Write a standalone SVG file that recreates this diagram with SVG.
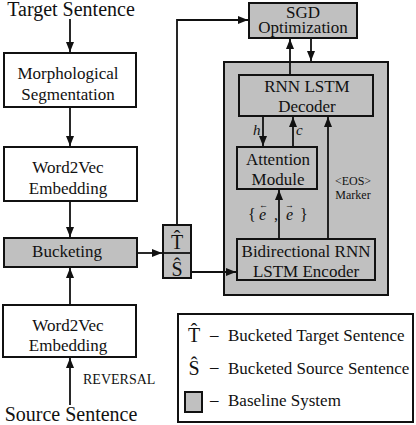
<svg xmlns="http://www.w3.org/2000/svg" width="416" height="425" viewBox="0 0 416 425">
<defs>
<style>
text{font-family:"Liberation Serif","Times New Roman",serif;fill:#111;}
.t17{font-size:17px;text-anchor:middle;}
.big{font-size:20px;}
.sm{font-size:12px;text-anchor:middle;}
.box{fill:#fff;stroke:#111;stroke-width:2;}
.gbox{fill:#c0c0c0;stroke:#111;stroke-width:2;}
.ln{fill:none;stroke:#111;stroke-width:1.8;}
.it{font-style:italic;}
</style>
<marker id="ah" markerUnits="userSpaceOnUse" markerWidth="11" markerHeight="9" refX="10" refY="4" orient="auto">
<path d="M0,0 L10,4 L0,8 z" fill="#111"/>
</marker>
</defs>
<rect width="416" height="425" fill="#fff"/>

<g id="baseline-system">
<rect class="gbox" x="224" y="62" width="164" height="233"/>
</g>

<g id="connectors">
<line class="ln" x1="70" y1="19" x2="70" y2="52" marker-end="url(#ah)"/>
<line class="ln" x1="70" y1="107" x2="70" y2="146" marker-end="url(#ah)"/>
<line class="ln" x1="70" y1="201" x2="70" y2="237" marker-end="url(#ah)"/>
<line class="ln" x1="70" y1="305" x2="70" y2="268" marker-end="url(#ah)"/>
<line class="ln" x1="70" y1="405" x2="70" y2="358" marker-end="url(#ah)"/>
<line class="ln" x1="137" y1="253" x2="162" y2="253" marker-end="url(#ah)"/>
<polyline class="ln" points="177,225 177,20 248,20" marker-end="url(#ah)"/>
<line class="ln" x1="191" y1="272" x2="236" y2="272" marker-end="url(#ah)"/>
<line class="ln" x1="290" y1="75" x2="290" y2="39" marker-end="url(#ah)"/>
<line class="ln" x1="311" y1="38" x2="311" y2="61" marker-end="url(#ah)"/>
<line class="ln" x1="263" y1="116" x2="263" y2="146" marker-end="url(#ah)"/>
<line class="ln" x1="293" y1="147" x2="293" y2="117" marker-end="url(#ah)"/>
<line class="ln" x1="328" y1="239" x2="328" y2="117" marker-end="url(#ah)"/>
<line class="ln" x1="279" y1="239" x2="279" y2="190" marker-end="url(#ah)"/>
<text class="it" x="253" y="135" font-size="15">h</text>
<text class="it" x="296" y="135" font-size="15">c</text>
<text x="248" y="220" font-size="16" fill="#333">{</text>
<text class="it" x="259" y="220" font-size="16" fill="#333">e</text>
<text x="259" y="208" font-size="9" fill="#333">←</text>
<text x="274" y="220" font-size="16" fill="#333">,</text>
<text class="it" x="286" y="220" font-size="16" fill="#333">e</text>
<text x="285" y="208" font-size="9" fill="#333">→</text>
<text x="300" y="220" font-size="16" fill="#333">}</text>
<text class="sm" x="353" y="185">&lt;EOS&gt;</text>
<text class="sm" x="353" y="199">Marker</text>
<text x="83" y="384" font-size="14">REVERSAL</text>
</g>

<g id="target-sentence">
<text class="big" x="71" y="16" text-anchor="middle">Target Sentence</text>
</g>
<g id="morph-seg">
<rect class="box" x="4" y="53" width="132" height="54"/>
<text class="t17" x="68" y="79">Morphological</text>
<text class="t17" x="68" y="100">Segmentation</text>
</g>
<g id="w2v-target">
<rect class="box" x="4" y="147" width="133" height="54"/>
<text class="t17" x="68" y="173">Word2Vec</text>
<text class="t17" x="68" y="194">Embedding</text>
</g>
<g id="bucketing">
<rect class="gbox" x="4" y="238" width="133" height="29"/>
<text class="t17" x="67" y="257">Bucketing</text>
</g>
<g id="w2v-source">
<rect class="box" x="3" y="305" width="133" height="52"/>
<text class="t17" x="68" y="331">Word2Vec</text>
<text class="t17" x="68" y="351">Embedding</text>
</g>
<g id="source-sentence">
<text class="big" x="71" y="421" text-anchor="middle">Source Sentence</text>
</g>
<g id="bucket-ts">
<rect class="gbox" x="163" y="225" width="28" height="53"/>
<line class="ln" x1="163" y1="253" x2="191" y2="253"/>
<text class="big" x="177" y="249" text-anchor="middle">T&#770;</text>
<text class="big" x="177" y="276" text-anchor="middle">&#348;</text>
</g>
<g id="sgd">
<rect class="gbox" x="249" y="3" width="108" height="35"/>
<text class="t17" x="303" y="18">SGD</text>
<text class="t17" x="303" y="33">Optimization</text>
</g>
<g id="decoder">
<rect class="gbox" x="239" y="75" width="134" height="41"/>
<text class="t17" x="307" y="92">RNN LSTM</text>
<text class="t17" x="307" y="112">Decoder</text>
</g>
<g id="attention">
<rect class="gbox" x="237" y="147" width="80" height="42"/>
<text class="t17" x="278" y="165">Attention</text>
<text class="t17" x="278" y="185">Module</text>
</g>
<g id="encoder">
<rect class="gbox" x="237" y="239" width="138" height="41"/>
<text class="t17" x="306" y="257">Bidirectional RNN</text>
<text class="t17" x="306" y="277">LSTM Encoder</text>
</g>
<g id="legend">
<rect class="box" x="178" y="314" width="235" height="108"/>
<text class="big" x="194" y="342" text-anchor="middle">T&#770;</text>
<text font-size="17" x="210" y="340">–</text>
<text font-size="17" x="228" y="341">Bucketed Target Sentence</text>
<text class="big" x="194" y="375" text-anchor="middle">&#348;</text>
<text font-size="17" x="210" y="372">–</text>
<text font-size="17" x="228" y="374">Bucketed Source Sentence</text>
<rect class="gbox" x="185" y="392" width="17" height="20"/>
<text font-size="17" x="210" y="405">–</text>
<text font-size="17" x="228" y="406">Baseline System</text>
</g>
</svg>
